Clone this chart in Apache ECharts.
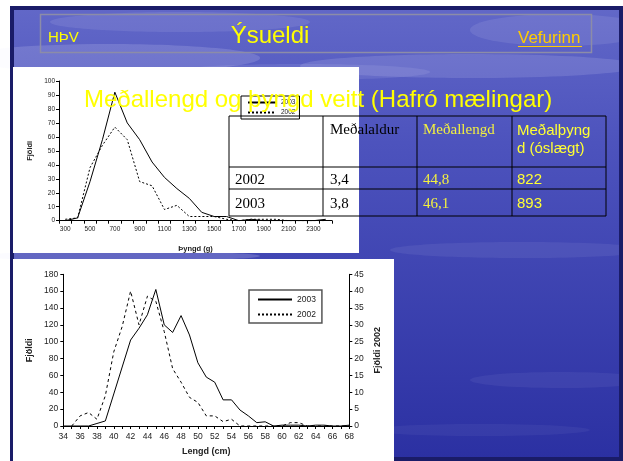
<!DOCTYPE html>
<html>
<head>
<meta charset="utf-8">
<script src="https://cdn.jsdelivr.net/npm/echarts@6/dist/echarts.min.js"></script>
<style>html,body{margin:0;padding:0;background:#fff}#main{width:623px;height:461px}</style>
</head>
<body>
<div id="main"></div>
<script>
// ---- data ----
const weightCats = ['300','400','500','600','700','800','900','1000','1100','1200','1300','1400','1500','1600','1700','1800','1900','2000','2100','2200','2300','2400'];
const weight2003 = [0,2,28,58,92,70,58,42,31,23,16,6,3,3,0,1,0,0,0,0,0,1];
const weight2002 = [1,2,38,54,67,58,28,25,8,11,3,3,3,1,0,1,1,1,0,0,0,0];
const lengthCats = ['34','35','36','37','38','39','40','41','42','43','44','45','46','47','48','49','50','51','52','53','54','55','56','57','58','59','60','61','62','63','64','65','66','67','68'];
const length2003 = [0,0,0,0,3,6,38,70,102,116,132,162,120,111,131,108,75,58,52,31,31,19,12,4,5,0,1,1,1,0,1,1,0,0,1];
const length2002 = [null,0,3,4,2,9,22,29.5,40,30,38.5,37,28,17,13,8.5,7,3,3,1.3,2,0,0,0,0,0,0,1,1,0,0,0,0,0,0];
const tableHead = ['', 'Meðalaldur', 'Meðallengd', 'Meðalþyng\nd (óslægt)'];
const tableRows = [['2002','3,4','44,8','822'],['2003','3,8','46,1','893']];

const chart = echarts.init(document.getElementById('main'), null, {renderer:'canvas'});
const AR = 'Liberation Sans, Arial, sans-serif';
const TM = 'Liberation Serif, Times New Roman, serif';
const txt = (t, x, y, fill, font, align, z) => ({type:'text', z: z||100, style:{text:t, x:x, y:y, fill:fill, font:font, align:align||'left', verticalAlign:'middle', textAlign:align||'left', textVerticalAlign:'middle'}});
const ln = (x1,y1,x2,y2,stroke,w,z) => ({type:'line', z: z||100, shape:{x1,y1,x2,y2}, style:{stroke:stroke, lineWidth:w||1}});

const colX = [229,323,417,512,606];
const rowY = [116,167,189,216];
const tableEls = [];
rowY.forEach(y => tableEls.push(ln(colX[0], y, colX[4], y, '#000', 1)));
colX.forEach(x => tableEls.push(ln(x, rowY[0], x, rowY[3], '#000', 1)));
tableEls.push(txt(tableHead[1], 330, 130, '#000', '15px ' + TM));
tableEls.push(txt(tableHead[2], 423, 130, '#f2f040', '15px ' + TM));
tableEls.push(txt(tableHead[3].split('\n')[0], 517, 131, '#ffff33', '15px ' + AR));
tableEls.push(txt(tableHead[3].split('\n')[1], 517, 149, '#ffff33', '15px ' + AR));
tableRows.forEach((r, i) => {
  const y = i === 0 ? 180 : 204;
  tableEls.push(txt(r[0], 235, y, '#000', '15px ' + TM));
  tableEls.push(txt(r[1], 330, y, '#000', '15px ' + TM));
  tableEls.push(txt(r[2], 423, y, '#f2f040', '15px ' + TM));
  tableEls.push(txt(r[3], 517, y, '#ffff33', '15px ' + AR));
});

const clouds = [
  [110,58,150,14,0.16],[300,72,130,8,0.10],[470,66,170,12,0.14],[560,30,90,16,0.10],
  [180,22,130,10,0.10],[120,256,140,5,0.2],[520,250,130,8,0.07],[560,380,90,8,0.06],[480,430,110,6,0.05]
].map(c => ({type:'ellipse', z:-9, shape:{cx:c[0], cy:c[1], rx:c[2], ry:c[3]}, style:{fill:'rgba(235,235,255,'+c[4]+')'}}));

const graphicEls = [
  {type:'rect', z:-10, shape:{x:10,y:6,width:613,height:455}, style:{fill:new echarts.graphic.LinearGradient(0,0,0,1,[{offset:0,color:'#6268c8'},{offset:0.3,color:'#4d53bd'},{offset:1,color:'#2b30a2'}])}},
  ...clouds,
  {type:'rect', z:-8, shape:{x:12,y:8,width:609,height:451}, style:{fill:null, stroke:'#1a1c68', lineWidth:4}},
  {type:'rect', z:-8, shape:{x:40.5,y:14.5,width:551,height:38}, style:{fill:null, stroke:'#8c8ca8', lineWidth:1.5}},
  txt('HÞV', 48, 38, '#ffff00', '15px ' + AR, 'left', -7),
  txt('Ýsueldi', 270, 36, '#ffff00', '24px ' + AR, 'center', -7),
  txt('Vefurinn', 518, 38, '#ffcc00', '17px ' + AR, 'left', -7),
  ln(518, 46.5, 582, 46.5, '#ffcc00', 1, -7),
  {type:'rect', z:-6, shape:{x:13,y:67,width:346,height:186}, style:{fill:'#ffffff'}},
  {type:'rect', z:-6, shape:{x:13,y:259,width:381,height:202}, style:{fill:'#ffffff'}},
  txt('Meðallengd og þyngd veitt (Hafró mælingar)', 84, 100, '#ffff00', '24px ' + AR, 'left', 100),
  ...tableEls
];

const axLine = {show:true, lineStyle:{color:'#000', width:1}};
const option = {
  animation: false,
  graphic: {elements: graphicEls},
  legend: [
    {data:['2003','2002'], orient:'vertical', left:241, top:96, itemWidth:28, itemHeight:6, itemGap:3,
     padding:[3,4,3,6], borderColor:'#000', borderWidth:1, backgroundColor:'#fff',
     itemStyle:{opacity:0},
     textStyle:{fontSize:6.5, color:'#222', fontFamily:AR}, selectedMode:false},
    {data:['2003','2002'], orient:'vertical', left:249, top:290, itemWidth:34, itemHeight:8, itemGap:6,
     padding:[5,6,4,8], borderColor:'#555', borderWidth:1.5, backgroundColor:'#fff',
     itemStyle:{opacity:0},
     textStyle:{fontSize:8.5, color:'#222', fontFamily:AR}, selectedMode:false}
  ],
  grid: [
    {left:59, top:81, width:273, height:139.7},
    {left:63.3, top:274.3, width:286, height:151.7}
  ],
  xAxis: [
    {type:'category', gridIndex:0, data:weightCats, boundaryGap:true, axisLine:axLine,
     axisTick:{show:true, interval:0, length:3, lineStyle:{color:'#000'}},
     axisLabel:{interval:1, fontSize:6.5, color:'#222', margin:5, fontFamily:AR},
     name:'Þyngd (g)', nameLocation:'middle', nameGap:24,
     nameTextStyle:{fontSize:7.5, fontWeight:'bold', color:'#222', fontFamily:AR}},
    {type:'category', gridIndex:1, data:lengthCats, boundaryGap:false, axisLine:axLine,
     axisTick:{show:true, interval:0, length:3, lineStyle:{color:'#000'}},
     axisLabel:{interval:1, fontSize:8.5, color:'#222', margin:6, fontFamily:AR},
     name:'Lengd (cm)', nameLocation:'middle', nameGap:21,
     nameTextStyle:{fontSize:9, fontWeight:'bold', color:'#222', fontFamily:AR}}
  ],
  yAxis: [
    {type:'value', gridIndex:0, min:0, max:100, interval:10, splitLine:{show:false}, axisLine:axLine,
     axisTick:{show:true, length:3, lineStyle:{color:'#000'}},
     axisLabel:{fontSize:6.5, color:'#222', margin:4, fontFamily:AR},
     name:'Fjöldi', nameLocation:'middle', nameRotate:90, nameGap:25,
     nameTextStyle:{fontSize:7.5, fontWeight:'bold', color:'#222', fontFamily:AR}},
    {type:'value', gridIndex:1, position:'left', min:0, max:180, interval:20, splitLine:{show:false}, axisLine:axLine,
     axisTick:{show:true, length:3, lineStyle:{color:'#000'}},
     axisLabel:{fontSize:8.5, color:'#222', margin:5, fontFamily:AR},
     name:'Fjöldi', nameLocation:'middle', nameRotate:90, nameGap:29,
     nameTextStyle:{fontSize:9, fontWeight:'bold', color:'#222', fontFamily:AR}},
    {type:'value', gridIndex:1, position:'right', min:0, max:45, interval:5, splitLine:{show:false}, axisLine:axLine,
     axisTick:{show:true, length:3, lineStyle:{color:'#000'}},
     axisLabel:{fontSize:8.5, color:'#222', margin:5, fontFamily:AR},
     name:'Fjöldi 2002', nameLocation:'middle', nameRotate:90, nameGap:24,
     nameTextStyle:{fontSize:9, fontWeight:'bold', color:'#222', fontFamily:AR}}
  ],
  series: [
    {name:'2003', type:'line', xAxisIndex:0, yAxisIndex:0, data:weight2003, symbol:'none', lineStyle:{color:'#000', width:1}, itemStyle:{color:'#000'}},
    {name:'2002', type:'line', xAxisIndex:0, yAxisIndex:0, data:weight2002, symbol:'none', lineStyle:{color:'#000', width:1, type:[2,2]}, itemStyle:{color:'#000'}},
    {name:'2003', type:'line', xAxisIndex:1, yAxisIndex:1, data:length2003, symbol:'none', lineStyle:{color:'#000', width:1}, itemStyle:{color:'#000'}},
    {name:'2002', type:'line', xAxisIndex:1, yAxisIndex:2, data:length2002, symbol:'none', lineStyle:{color:'#000', width:1, type:[3,3]}, itemStyle:{color:'#000'}}
  ]
};
chart.setOption(option);
</script>
</body>
</html>
